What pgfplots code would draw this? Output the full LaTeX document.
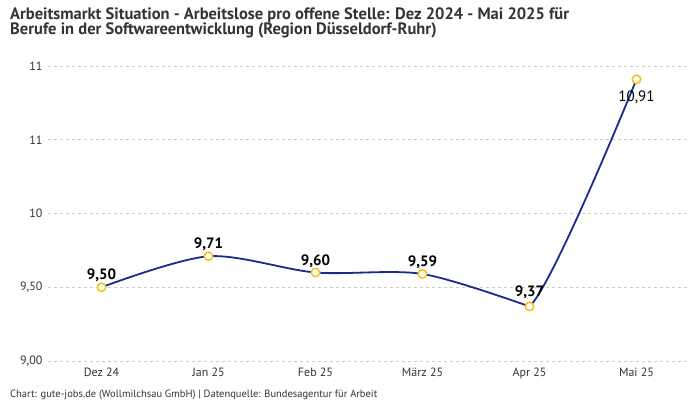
\documentclass[border=0pt]{standalone}
\usepackage{pgfplots}
\pgfplotsset{compat=1.18}
\usepackage{fontspec}
\setmainfont{PT Sans}
\definecolor{linie}{HTML}{1B2A8E}
\definecolor{punkt}{HTML}{F5C218}
\definecolor{gitter}{HTML}{CCCCCC}
\definecolor{textgrau}{HTML}{333333}

\begin{document}
\begin{tikzpicture}[x=1pt,y=1pt]
\useasboundingbox (0,0) rectangle (700,400);
% Titel
\node[anchor=base west, inner sep=0, text=textgrau, font=\fontsize{16.5}{20}\selectfont\bfseries] at (10,381)
  {Arbeitsmarkt Situation - Arbeitslose pro offene Stelle: Dez 2024 - Mai 2025 für};
\node[anchor=base west, inner sep=0, text=textgrau, font=\fontsize{16.5}{20}\selectfont\bfseries] at (10,365)
  {Berufe in der Softwareentwicklung (Region Düsseldorf-Ruhr)};
% Quelle
\node[anchor=base west, inner sep=0, text=textgrau, font=\fontsize{10.5}{12}\selectfont] at (10,3)
  {Chart: gute-jobs.de (Wollmilchsau GmbH) | Datenquelle: Bundesagentur für Arbeit};

\begin{axis}[
    at={(48pt,39pt)}, anchor=south west,
    scale only axis, width=642pt, height=295pt,
    xmin=-0.5, xmax=5.5, ymin=9, ymax=11,
    axis line style={draw=none}, tick style={draw=none},
    ymajorgrids, grid style={dashed, gitter, line width=0.8pt},
    xtick={0,1,2,3,4,5},
    xticklabels={Dez 24, Jan 25, Feb 25, März 25, Apr 25, Mai 25},
    ytick={9,9.5,10,10.5,11},
    yticklabels={{9,00},{9,50},{10},{11},{11}},
    ticklabel style={font=\fontsize{12}{14}\selectfont, text=textgrau},
    yticklabel style={xshift=-2pt},
    xticklabel style={yshift=-3pt},
    clip=false,
]
% Kurve bis Apr 25
\addplot[linie, line width=1.8pt, smooth, mark=none]
  coordinates {(0,9.50) (1,9.71) (2,9.60) (3,9.59) (4,9.37)};
% Anstieg Apr 25 - Mai 25
\begin{scope}
\clip (axis cs:4,9) rectangle (axis cs:5.5,11.2);
\addplot[linie, line width=1.8pt, smooth, tension=0.4, mark=none]
  coordinates {(3,9.59) (4,9.37) (5,10.91)};
\end{scope}
% Punkte und Werte
\addplot[draw=none, mark=*, mark size=4.2pt,
  mark options={draw=punkt, fill=white, line width=1.5pt},
  point meta=explicit symbolic,
  nodes near coords, nodes near coords style={font=\fontsize{15}{17}\selectfont\bfseries, text=black, anchor=south, yshift=1pt}]
  coordinates {(0,9.50) [9,50] (1,9.71) [9,71] (2,9.60) [9,60] (3,9.59) [9,59]};
\addplot[draw=none, mark=*, mark size=4.2pt,
  mark options={draw=punkt, fill=white, line width=1.5pt},
  point meta=explicit symbolic,
  nodes near coords, nodes near coords style={font=\fontsize{15}{17}\selectfont\bfseries, text=black, anchor=south, yshift=4pt}]
  coordinates {(4,9.37) [9,37]};
\addplot[draw=none, mark=*, mark size=4.2pt,
  mark options={draw=punkt, fill=white, line width=1.5pt},
  point meta=explicit symbolic,
  nodes near coords, nodes near coords style={font=\fontsize{15}{17}\selectfont, text=black, anchor=north, yshift=-7pt}]
  coordinates {(5,10.91) [10,91]};
\end{axis}
\end{tikzpicture}
\end{document}
